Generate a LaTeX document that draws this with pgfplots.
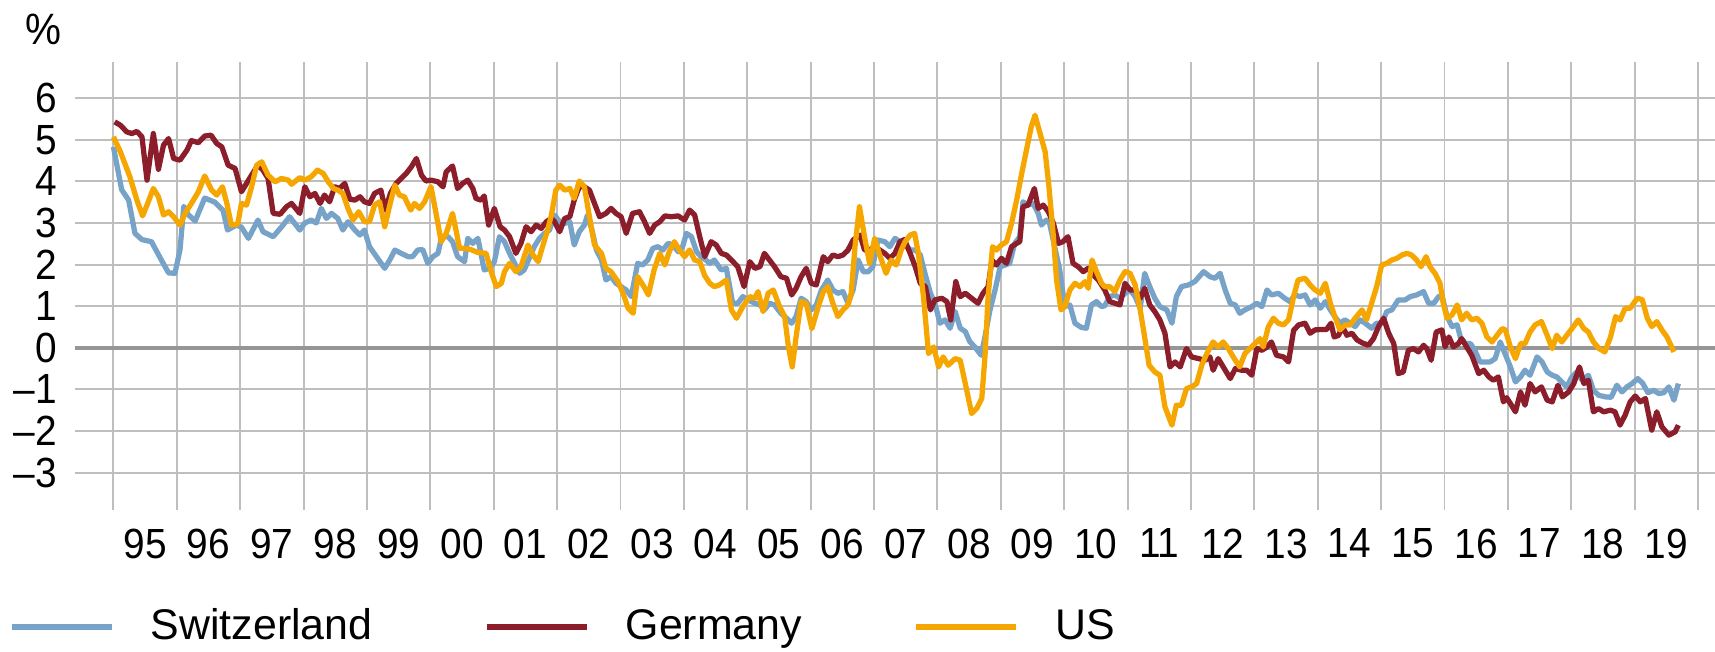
\documentclass[border=0pt]{standalone}
\usepackage{fontspec}
\setmainfont{Liberation Sans}
\newfontfamily\tickfont[FakeStretch=0.92]{Liberation Sans}
\usepackage{pgfplots}
\pgfplotsset{compat=1.18}
\usepackage{pgfplotstable}
\definecolor{chblue}{RGB}{120,163,201}
\definecolor{dered}{RGB}{139,30,42}
\definecolor{usorange}{RGB}{246,166,0}
\definecolor{gridgray}{RGB}{190,190,190}
\definecolor{zerogray}{RGB}{150,150,150}

\pgfplotstableread{
x y
1995.00 4.83
1995.13 3.80
1995.24 3.55
1995.34 2.75
1995.45 2.60
1995.60 2.55
1995.76 2.10
1995.87 1.80
1995.97 1.79
1996.05 2.35
1996.11 3.40
1996.18 3.20
1996.29 3.05
1996.44 3.60
1996.60 3.50
1996.73 3.30
1996.80 2.83
1996.94 2.95
1997.02 2.90
1997.13 2.63
1997.28 3.07
1997.36 2.79
1997.52 2.67
1997.65 2.90
1997.78 3.15
1997.94 2.83
1998.02 3.00
1998.12 3.07
1998.20 3.00
1998.28 3.35
1998.36 3.11
1998.44 3.23
1998.54 3.11
1998.62 2.83
1998.70 3.03
1998.81 2.83
1998.89 2.71
1998.96 2.83
1999.04 2.43
1999.15 2.19
1999.28 1.91
1999.36 2.11
1999.44 2.35
1999.54 2.27
1999.65 2.19
1999.72 2.19
1999.80 2.35
1999.88 2.36
1999.96 2.03
2000.04 2.19
2000.12 2.27
2000.18 2.67
2000.28 2.67
2000.35 2.55
2000.43 2.19
2000.54 2.07
2000.59 2.63
2000.67 2.51
2000.75 2.63
2000.85 1.87
2000.93 1.91
2001.01 2.07
2001.09 2.67
2001.17 2.55
2001.25 2.27
2001.33 2.03
2001.41 1.79
2001.48 1.87
2001.56 2.15
2001.64 2.43
2001.72 2.63
2001.80 2.75
2001.88 2.83
2001.96 3.19
2002.04 3.03
2002.12 2.99
2002.20 3.03
2002.27 2.47
2002.35 2.79
2002.43 2.95
2002.48 3.19
2002.55 2.83
2002.62 2.35
2002.70 2.11
2002.77 1.63
2002.85 1.71
2002.93 1.55
2003.01 1.47
2003.09 1.39
2003.17 1.23
2003.27 2.03
2003.35 1.99
2003.43 2.11
2003.51 2.39
2003.59 2.43
2003.67 2.35
2003.75 2.51
2003.83 2.47
2003.91 2.31
2003.98 2.43
2004.04 2.75
2004.12 2.67
2004.20 2.31
2004.27 2.19
2004.33 2.13
2004.41 2.03
2004.48 2.11
2004.59 1.87
2004.67 1.91
2004.77 1.07
2004.85 1.07
2004.93 1.23
2005.01 1.15
2005.12 1.07
2005.20 1.03
2005.27 0.91
2005.35 1.07
2005.43 1.03
2005.53 0.83
2005.62 0.71
2005.70 0.59
2005.77 0.75
2005.85 1.19
2005.93 1.11
2006.01 0.91
2006.09 1.03
2006.17 1.39
2006.27 1.63
2006.35 1.39
2006.43 1.31
2006.51 1.35
2006.59 1.07
2006.67 1.39
2006.75 2.11
2006.83 1.83
2006.91 1.83
2006.98 1.95
2007.06 2.59
2007.17 2.55
2007.25 2.43
2007.33 2.63
2007.41 2.55
2007.48 2.51
2007.57 2.35
2007.65 2.35
2007.73 2.23
2007.81 1.75
2007.89 1.31
2007.96 1.07
2008.04 0.59
2008.12 0.67
2008.20 0.47
2008.28 0.87
2008.36 0.47
2008.44 0.39
2008.51 0.15
2008.59 0.02
2008.69 -0.18
2008.75 0.26
2008.83 0.91
2008.91 1.39
2008.99 1.95
2009.07 1.99
2009.14 2.03
2009.22 2.51
2009.30 2.67
2009.35 3.51
2009.43 3.43
2009.51 3.47
2009.59 3.23
2009.64 2.95
2009.72 3.07
2009.77 2.99
2009.85 2.43
2009.93 1.87
2010.01 0.99
2010.09 1.03
2010.17 0.59
2010.27 0.49
2010.35 0.47
2010.43 1.03
2010.51 1.11
2010.59 0.99
2010.64 1.01
2010.72 1.23
2010.80 1.27
2010.88 1.19
2010.96 1.31
2011.04 1.39
2011.12 1.23
2011.20 0.95
2011.27 1.79
2011.35 1.47
2011.43 1.19
2011.51 0.99
2011.62 0.91
2011.70 0.59
2011.77 1.23
2011.85 1.47
2011.96 1.51
2012.06 1.59
2012.20 1.83
2012.30 1.71
2012.38 1.67
2012.46 1.79
2012.54 1.39
2012.62 1.07
2012.70 1.03
2012.77 0.83
2012.85 0.91
2012.96 0.99
2013.04 1.07
2013.12 0.99
2013.20 1.39
2013.27 1.27
2013.38 1.31
2013.48 1.19
2013.56 1.11
2013.64 1.27
2013.72 1.23
2013.80 1.27
2013.88 1.03
2013.96 1.15
2014.04 0.95
2014.12 1.11
2014.20 0.91
2014.27 0.75
2014.35 0.59
2014.43 0.67
2014.51 0.59
2014.59 0.51
2014.67 0.67
2014.75 0.59
2014.85 0.47
2014.93 0.59
2015.01 0.59
2015.09 0.87
2015.17 0.91
2015.27 1.15
2015.38 1.15
2015.46 1.23
2015.56 1.27
2015.67 1.35
2015.75 1.07
2015.83 1.07
2015.91 1.23
2015.96 1.27
2016.04 0.75
2016.12 0.51
2016.20 0.55
2016.25 0.26
2016.33 0.10
2016.41 0.10
2016.48 -0.06
2016.56 -0.34
2016.64 -0.34
2016.72 -0.34
2016.80 -0.26
2016.88 0.14
2016.96 -0.16
2017.04 -0.46
2017.12 -0.82
2017.20 -0.70
2017.27 -0.54
2017.35 -0.66
2017.46 -0.22
2017.54 -0.34
2017.62 -0.58
2017.70 -0.66
2017.77 -0.70
2017.85 -0.82
2017.93 -0.94
2018.01 -0.70
2018.09 -0.58
2018.17 -0.78
2018.27 -0.66
2018.35 -1.02
2018.43 -1.14
2018.54 -1.18
2018.63 -1.19
2018.72 -0.90
2018.80 -1.06
2018.88 -0.94
2018.96 -0.86
2019.05 -0.74
2019.13 -0.86
2019.21 -1.08
2019.30 -1.02
2019.38 -1.10
2019.46 -1.08
2019.54 -0.94
2019.62 -1.26
2019.69 -0.86
}\swiss

\pgfplotstableread{
x y
1995.02 5.43
1995.11 5.35
1995.21 5.19
1995.29 5.15
1995.37 5.20
1995.45 5.07
1995.53 4.03
1995.63 5.15
1995.71 4.29
1995.79 4.87
1995.87 5.03
1995.95 4.55
1996.05 4.51
1996.16 4.75
1996.23 4.98
1996.34 4.93
1996.44 5.09
1996.54 5.11
1996.63 4.91
1996.71 4.83
1996.81 4.39
1996.92 4.31
1997.02 3.75
1997.10 3.95
1997.18 4.15
1997.28 4.39
1997.36 4.27
1997.44 4.07
1997.52 3.23
1997.63 3.21
1997.73 3.39
1997.81 3.47
1997.94 3.23
1998.02 3.87
1998.10 3.63
1998.18 3.71
1998.26 3.47
1998.33 3.67
1998.41 3.51
1998.49 3.87
1998.57 3.83
1998.65 3.95
1998.73 3.57
1998.81 3.55
1998.89 3.63
1998.96 3.51
1999.04 3.47
1999.12 3.71
1999.22 3.79
1999.29 3.31
1999.37 3.71
1999.46 3.95
1999.54 4.07
1999.62 4.19
1999.70 4.35
1999.78 4.55
1999.86 4.15
1999.93 4.01
2000.01 4.03
2000.12 3.99
2000.20 3.87
2000.25 4.23
2000.35 4.37
2000.43 3.83
2000.51 3.95
2000.59 4.03
2000.67 3.83
2000.72 3.59
2000.80 3.55
2000.85 3.65
2000.92 2.95
2001.01 3.35
2001.10 2.91
2001.17 2.83
2001.25 2.67
2001.35 2.27
2001.43 2.51
2001.51 2.91
2001.59 2.79
2001.67 2.95
2001.75 2.87
2001.83 3.03
2001.91 3.11
2001.96 3.03
2002.04 2.79
2002.12 3.11
2002.20 3.15
2002.27 3.55
2002.35 3.87
2002.43 3.87
2002.51 3.79
2002.59 3.47
2002.67 3.15
2002.77 3.23
2002.85 3.35
2002.93 3.23
2003.01 3.15
2003.09 2.75
2003.19 3.23
2003.30 3.27
2003.38 3.03
2003.46 2.75
2003.54 2.95
2003.62 3.03
2003.70 3.17
2003.80 3.15
2003.91 3.17
2004.01 3.07
2004.09 3.31
2004.17 3.19
2004.25 2.67
2004.33 2.19
2004.43 2.55
2004.51 2.47
2004.59 2.27
2004.67 2.23
2004.75 2.11
2004.85 1.95
2004.95 1.47
2005.04 2.07
2005.12 1.91
2005.20 1.95
2005.27 2.27
2005.35 2.11
2005.43 1.95
2005.53 1.71
2005.62 1.67
2005.70 1.27
2005.77 1.43
2005.85 1.71
2005.93 1.91
2006.01 1.55
2006.09 1.51
2006.20 2.19
2006.27 2.07
2006.35 2.23
2006.43 2.19
2006.51 2.23
2006.59 2.35
2006.67 2.59
2006.78 2.71
2006.85 2.35
2006.93 2.35
2007.01 2.43
2007.09 2.35
2007.17 2.27
2007.25 2.15
2007.33 2.27
2007.41 2.55
2007.48 2.60
2007.57 2.27
2007.65 1.95
2007.73 1.55
2007.81 1.47
2007.89 0.91
2007.96 1.15
2008.07 1.19
2008.15 1.11
2008.21 0.67
2008.29 1.59
2008.36 1.23
2008.44 1.31
2008.54 1.19
2008.64 1.07
2008.72 1.31
2008.80 1.47
2008.86 2.11
2008.93 1.99
2009.01 2.15
2009.09 2.03
2009.17 2.43
2009.25 2.51
2009.30 2.55
2009.35 3.39
2009.43 3.43
2009.53 3.83
2009.59 3.35
2009.67 3.43
2009.75 3.27
2009.83 2.99
2009.91 2.51
2009.98 2.55
2010.06 2.67
2010.14 2.03
2010.22 1.95
2010.30 1.83
2010.38 1.91
2010.46 1.75
2010.54 1.63
2010.64 1.39
2010.72 1.11
2010.80 1.07
2010.88 1.03
2010.96 1.55
2011.04 1.39
2011.12 1.39
2011.20 1.19
2011.27 1.43
2011.35 1.03
2011.43 0.87
2011.51 0.67
2011.59 0.35
2011.67 -0.46
2011.75 -0.34
2011.83 -0.46
2011.93 -0.02
2012.01 -0.22
2012.12 -0.26
2012.22 -0.30
2012.30 -0.22
2012.35 -0.54
2012.43 -0.26
2012.51 -0.46
2012.62 -0.74
2012.70 -0.50
2012.80 -0.54
2012.88 -0.54
2012.96 -0.66
2013.04 -0.02
2013.12 -0.06
2013.20 0.02
2013.27 0.14
2013.35 -0.18
2013.46 -0.22
2013.54 -0.34
2013.62 0.42
2013.70 0.55
2013.80 0.59
2013.88 0.35
2013.96 0.43
2014.06 0.44
2014.14 0.44
2014.21 0.59
2014.26 0.26
2014.33 0.30
2014.39 0.51
2014.46 0.30
2014.54 0.35
2014.62 0.19
2014.70 0.12
2014.80 0.06
2014.88 0.22
2014.96 0.51
2015.04 0.71
2015.12 0.35
2015.20 0.10
2015.27 -0.62
2015.35 -0.58
2015.43 -0.06
2015.51 -0.02
2015.59 -0.10
2015.67 0.06
2015.72 -0.02
2015.79 -0.30
2015.87 0.38
2015.96 0.43
2016.01 0.02
2016.07 0.26
2016.14 0.02
2016.22 0.10
2016.27 0.22
2016.35 0.02
2016.43 -0.18
2016.54 -0.62
2016.62 -0.54
2016.70 -0.70
2016.77 -0.78
2016.85 -0.70
2016.93 -1.30
2016.98 -1.20
2017.04 -1.34
2017.12 -1.54
2017.20 -1.06
2017.27 -1.38
2017.35 -0.86
2017.43 -1.06
2017.53 -0.94
2017.62 -1.26
2017.70 -1.30
2017.79 -0.90
2017.86 -1.18
2017.96 -1.06
2018.04 -0.86
2018.13 -0.46
2018.20 -0.86
2018.27 -0.78
2018.35 -1.54
2018.43 -1.46
2018.51 -1.54
2018.62 -1.50
2018.69 -1.54
2018.77 -1.86
2018.85 -1.62
2018.93 -1.30
2019.01 -1.16
2019.09 -1.30
2019.17 -1.22
2019.27 -1.98
2019.35 -1.54
2019.43 -1.90
2019.54 -2.10
2019.64 -2.02
2019.69 -1.86
}\germany

\pgfplotstableread{
x y
1995.00 5.07
1995.11 4.71
1995.18 4.43
1995.26 4.11
1995.37 3.55
1995.46 3.17
1995.54 3.47
1995.63 3.83
1995.71 3.63
1995.79 3.19
1995.87 3.27
1995.95 3.15
1996.05 2.95
1996.13 3.23
1996.23 3.47
1996.34 3.75
1996.44 4.13
1996.55 3.79
1996.63 3.67
1996.72 3.87
1996.79 3.47
1996.86 2.95
1996.96 2.97
1997.02 3.47
1997.10 3.43
1997.18 3.87
1997.26 4.39
1997.34 4.47
1997.44 4.15
1997.55 3.99
1997.65 4.07
1997.76 4.03
1997.81 3.93
1997.94 4.09
1998.02 4.03
1998.12 4.11
1998.22 4.27
1998.31 4.19
1998.39 3.99
1998.47 3.83
1998.54 3.79
1998.62 3.71
1998.70 3.35
1998.78 3.07
1998.87 3.27
1998.96 3.03
1999.04 3.03
1999.12 3.43
1999.20 3.51
1999.28 2.91
1999.36 3.43
1999.44 3.91
1999.51 3.67
1999.59 3.63
1999.69 3.31
1999.75 3.47
1999.83 3.35
1999.91 3.51
2000.01 3.87
2000.09 3.23
2000.17 2.55
2000.25 2.75
2000.35 3.23
2000.41 2.79
2000.46 2.39
2000.54 2.39
2000.64 2.36
2000.75 2.29
2000.88 2.27
2000.96 1.83
2001.04 1.47
2001.12 1.55
2001.17 1.83
2001.25 2.03
2001.35 1.83
2001.43 1.95
2001.54 2.47
2001.62 2.23
2001.70 2.07
2001.77 2.43
2001.85 2.83
2001.91 3.19
2001.98 3.79
2002.04 3.91
2002.12 3.79
2002.20 3.83
2002.27 3.59
2002.35 4.01
2002.43 3.87
2002.51 3.15
2002.59 2.47
2002.70 2.27
2002.77 1.91
2002.85 1.83
2002.96 1.59
2003.04 1.31
2003.12 0.95
2003.20 0.83
2003.27 1.71
2003.37 1.47
2003.44 1.27
2003.53 1.87
2003.62 2.27
2003.70 1.99
2003.77 2.31
2003.85 2.55
2003.93 2.35
2004.01 2.19
2004.09 2.35
2004.17 2.11
2004.25 2.07
2004.33 1.73
2004.41 1.55
2004.48 1.47
2004.56 1.51
2004.67 1.63
2004.75 0.91
2004.83 0.71
2004.93 0.99
2005.04 1.23
2005.12 1.19
2005.17 1.35
2005.25 0.87
2005.33 1.31
2005.41 1.39
2005.51 0.99
2005.59 0.75
2005.65 0.02
2005.71 -0.46
2005.77 0.26
2005.85 1.11
2005.93 1.07
2006.02 0.46
2006.12 0.99
2006.20 1.35
2006.27 1.47
2006.35 1.07
2006.43 0.75
2006.51 0.91
2006.59 1.03
2006.64 1.31
2006.70 2.43
2006.77 3.39
2006.85 2.67
2006.93 2.03
2007.01 2.63
2007.09 2.23
2007.19 1.79
2007.27 2.11
2007.35 1.99
2007.43 2.35
2007.49 2.55
2007.57 2.71
2007.64 2.75
2007.70 2.27
2007.78 1.23
2007.86 -0.14
2007.94 0.02
2008.02 -0.46
2008.09 -0.22
2008.17 -0.42
2008.28 -0.26
2008.36 -0.30
2008.44 -0.86
2008.54 -1.58
2008.62 -1.46
2008.70 -1.22
2008.75 -0.22
2008.80 1.23
2008.87 2.43
2008.93 2.35
2009.01 2.47
2009.09 2.55
2009.17 2.99
2009.25 3.55
2009.33 4.19
2009.41 4.79
2009.48 5.31
2009.54 5.59
2009.62 5.15
2009.70 4.71
2009.76 3.87
2009.83 2.67
2009.88 1.63
2009.95 0.91
2010.01 0.99
2010.09 1.39
2010.17 1.55
2010.25 1.47
2010.33 1.59
2010.38 1.43
2010.44 2.11
2010.51 1.83
2010.59 1.55
2010.64 1.47
2010.72 1.47
2010.80 1.35
2010.88 1.63
2010.96 1.83
2011.04 1.79
2011.12 1.51
2011.20 0.91
2011.26 0.35
2011.34 -0.42
2011.43 -0.58
2011.51 -0.66
2011.59 -1.42
2011.70 -1.86
2011.77 -1.38
2011.85 -1.38
2011.93 -0.98
2012.01 -0.94
2012.09 -0.86
2012.17 -0.42
2012.25 -0.14
2012.35 0.14
2012.43 0.02
2012.51 0.14
2012.59 -0.02
2012.70 -0.30
2012.77 -0.46
2012.85 -0.14
2012.93 -0.02
2013.01 0.10
2013.09 0.22
2013.14 0.02
2013.22 0.50
2013.30 0.71
2013.38 0.59
2013.46 0.55
2013.54 0.67
2013.62 1.23
2013.69 1.63
2013.80 1.67
2013.88 1.51
2013.96 1.39
2014.04 1.31
2014.12 1.55
2014.20 1.07
2014.27 0.75
2014.35 0.43
2014.43 0.55
2014.51 0.55
2014.59 0.71
2014.70 0.91
2014.77 0.67
2014.85 1.07
2014.93 1.47
2015.01 1.99
2015.09 2.03
2015.17 2.11
2015.25 2.15
2015.33 2.23
2015.41 2.27
2015.48 2.23
2015.56 2.11
2015.63 1.95
2015.71 2.19
2015.77 1.95
2015.85 1.79
2015.93 1.55
2015.98 1.07
2016.04 0.71
2016.12 0.79
2016.20 1.03
2016.27 0.67
2016.35 0.83
2016.43 0.67
2016.51 0.71
2016.59 0.59
2016.67 0.26
2016.75 0.14
2016.83 0.30
2016.91 0.46
2016.96 0.43
2017.04 0.02
2017.12 -0.26
2017.20 0.10
2017.27 0.10
2017.35 0.38
2017.43 0.55
2017.53 0.63
2017.62 0.30
2017.70 -0.02
2017.77 0.30
2017.85 0.14
2017.93 0.30
2018.01 0.46
2018.11 0.67
2018.20 0.46
2018.27 0.38
2018.35 0.14
2018.44 -0.02
2018.53 -0.10
2018.62 0.26
2018.70 0.75
2018.77 0.67
2018.85 0.95
2018.93 0.95
2019.04 1.19
2019.12 1.16
2019.20 0.71
2019.27 0.51
2019.35 0.63
2019.43 0.43
2019.51 0.26
2019.56 0.10
2019.62 -0.10
}\us

\begin{document}
\begin{tikzpicture}
\useasboundingbox (0,0) rectangle (171.5mm,65.1mm);
\begin{axis}[
  at={(7.54mm,14.1mm)}, anchor=south west,
  scale only axis,
  width=163.97mm, height=44.8mm,
  xmin=1994.40, xmax=2020.27,
  ymin=-3.9, ymax=6.87,
  axis line style={draw=none},
  tick style={draw=none},
  major tick length=0pt, minor tick length=0pt,
  xtick={1995.5,1996.5,1997.5,1998.5,1999.5,2000.5,2001.5,2002.5,2003.5,2004.5,2005.5,2006.5,2007.5,2008.5,2009.5,2010.5,2011.5,2012.5,2013.5,2014.5,2015.5,2016.5,2017.5,2018.5,2019.5},
  xticklabels={95,96,97,98,99,00,01,02,03,04,05,06,07,08,09,10,11,12,13,14,15,16,17,18,19},
  minor xtick={1995,1996,1997,1998,1999,2000,2001,2002,2003,2004,2005,2006,2007,2008,2009,2010,2011,2012,2013,2014,2015,2016,2017,2018,2019,2020},
  xminorgrids=true, xmajorgrids=false,
  ytick={-3,-2,-1,0,1,2,3,4,5,6},
  yticklabels={–3,–2,–1,0,1,2,3,4,5,6},
  ymajorgrids=true,
  grid style={line width=0.55pt, draw=gridgray},
  minor grid style={line width=0.55pt, draw=gridgray},
  extra y ticks={0}, extra y tick labels={},
  extra y tick style={grid style={line width=1.0pt, draw=zerogray}},
  xticklabel style={font=\tickfont\fontsize{12}{14}\selectfont, anchor=north, inner sep=0pt, yshift=-1.8mm},
  yticklabel style={font=\tickfont\fontsize{12}{14}\selectfont, anchor=east, inner sep=0pt, xshift=-1.8mm},
  legend style={at={(axis description cs:-0.0405,-0.261)}, anchor=west, draw=none, fill=none,
    inner sep=0pt, outer sep=0pt, legend columns=3,
    font=\fontsize{12.2}{14}\selectfont,
    nodes={inner sep=0pt},
    /tikz/every odd column/.append style={column sep=3.65mm},
    /tikz/every even column/.append style={column sep=11.15mm}},
  legend cell align=left,
  legend image code/.code={\draw[#1] (0mm,0mm) -- (10mm,0mm);},
  every axis plot/.append style={line width=1.5pt, line join=round},
  clip=false,
]
\addplot[chblue, no markers] table {\swiss};
\addlegendentry{Switzerland}
\addplot[dered, no markers] table {\germany};
\addlegendentry{Germany}
\addplot[usorange, no markers] table {\us};
\addlegendentry{US}
\end{axis}
\node[font=\tickfont\fontsize{12.5}{14}\selectfont, inner sep=0pt] at (4.3mm,62.2mm) {\%};
\end{tikzpicture}
\end{document}
